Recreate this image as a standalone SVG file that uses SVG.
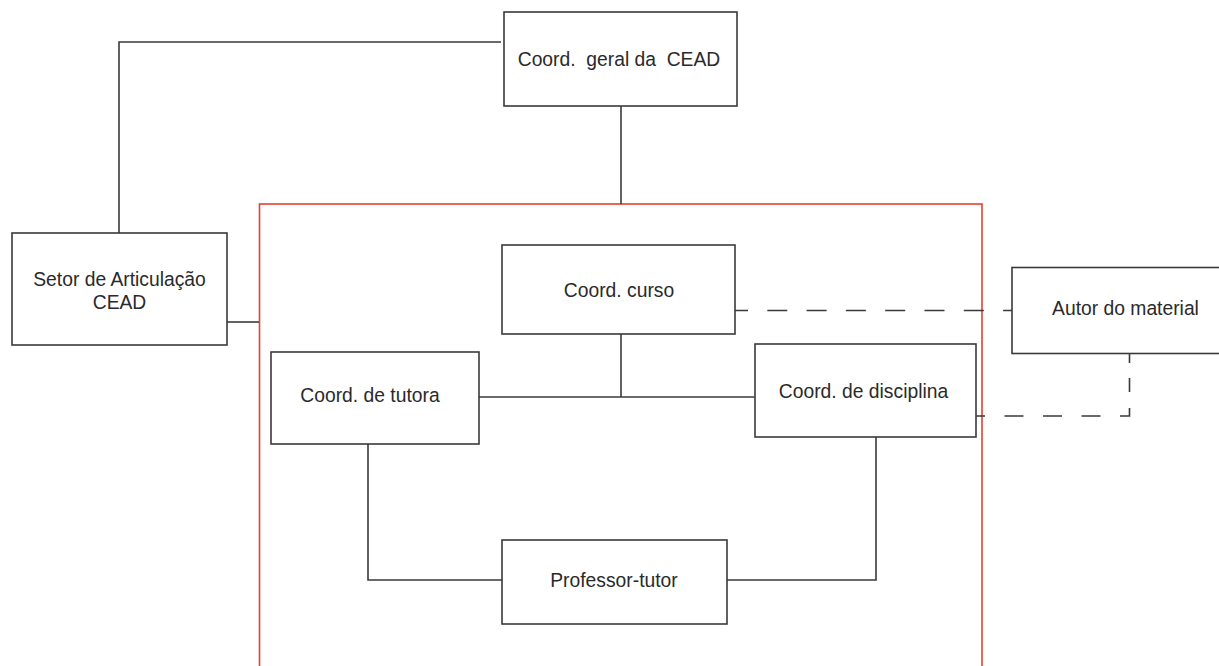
<svg xmlns="http://www.w3.org/2000/svg" width="1219" height="666" viewBox="0 0 1219 666">
<style>
.box{fill:#fff;stroke:#3a3a3a;stroke-width:1.6}
.ln{fill:none;stroke:#3a3a3a;stroke-width:1.6}
.dash{fill:none;stroke:#3a3a3a;stroke-width:1.6}
.frame{fill:none;stroke:#e8402f;stroke-width:1.6}
text{font-family:"Liberation Sans",Arial,sans-serif;font-size:19.3px;fill:#2a2a2a;text-anchor:middle;white-space:pre}
</style>
<rect width="1219" height="666" fill="#fff"/>
<g id="frame"><rect class="frame" x="259.5" y="204" width="722.5" height="500"/></g>
<g id="connectors">
<path class="ln" d="M119 233 V42 H501"/>
<path class="ln" d="M227 322 H259"/>
<path class="ln" d="M621 106 V204"/>
<path class="ln" d="M621 334 V397"/>
<path class="ln" d="M479 397 H755"/>
<path class="ln" d="M368 444 V580 H502"/>
<path class="ln" d="M876 437 V580 H727"/>
<path class="dash" d="M735 310.5 H1012" style="stroke-dasharray:20 19.3;stroke-dashoffset:7"/>
<path class="dash" d="M976 416 H1129.5 V354" style="stroke-dasharray:9 19.5 19 19.5 19 19.5 19 19.5 17.5 16 14 15 9 50"/>
</g>
<g id="n-geral"><rect class="box" x="504" y="12" width="233" height="94"/><text x="619" y="66">Coord.  geral da  CEAD</text></g>
<g id="n-setor"><rect class="box" x="12" y="233" width="215" height="112"/><text x="119.5" y="286">Setor de Articulação</text><text x="119.5" y="309">CEAD</text></g>
<g id="n-curso"><rect class="box" x="502" y="245" width="233" height="89"/><text x="619" y="297">Coord. curso</text></g>
<g id="n-tutora"><rect class="box" x="271" y="352" width="208" height="92"/><text x="370" y="402">Coord. de tutora</text></g>
<g id="n-disciplina"><rect class="box" x="755" y="344" width="221" height="93"/><text x="863.5" y="398">Coord. de disciplina</text></g>
<g id="n-autor"><rect class="box" x="1012" y="267.5" width="220" height="86"/><text x="1125.5" y="315">Autor do material</text></g>
<g id="n-professor"><rect class="box" x="502" y="540" width="225" height="84"/><text x="614" y="587">Professor-tutor</text></g>
</svg>
